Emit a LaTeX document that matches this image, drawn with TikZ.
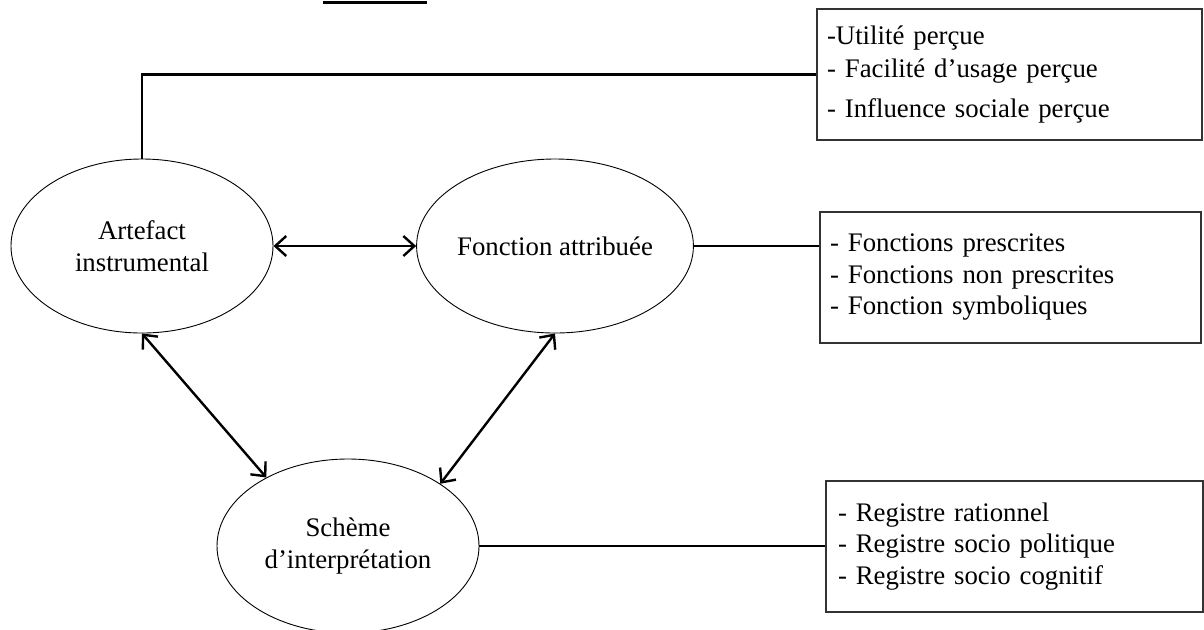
\documentclass[tikz,border=0pt]{standalone}
\usepackage{fontspec}
\setmainfont{Liberation Serif}
\usetikzlibrary{shapes.geometric,arrows.meta}

\begin{document}
\begin{tikzpicture}[x=0.5pt,y=-0.5pt,
    every node/.style={font=\fontsize{13.4}{15.75}\selectfont},
    concept/.style={draw,ellipse,line width=0.45pt,minimum width=131pt,minimum height=87pt,align=center,inner sep=0pt},
    listbox/.style={draw=black!80,line width=0.6pt,rectangle,minimum height=65.5pt,align=left,inner xsep=5pt,inner ysep=0pt},
    link/.style={line width=1.2pt},
    twoway/.style={line width=1.2pt,{Straight Barb[length=5.5pt,width=10pt]}-{Straight Barb[length=5.5pt,width=10pt]}}]
        \useasboundingbox (0,0) rectangle (1204,629);

        % Underline left over from the caption
        \draw[line width=1.5pt] (323,2) -- (427,2);

        % Draw the three ellipses
        \node[concept] (art) at (142,246) {Artefact\\instrumental};
        \node[concept] (fct) at (555,246) {Fonction attribuée};
        \node[concept] (sch) at (348,546) {Schème\\d’interprétation};

        % Draw the boxes on the right
        \node[listbox,text width=182.5pt] (perc) at (1009.5,74.5)
            {-Utilité perçue\\[1pt]- Facilité d’usage perçue\\[4pt]- Influence sociale perçue};
        \node[listbox,text width=180.5pt] (fonc) at (1010.5,277.5)
            {- Fonctions prescrites\\- Fonctions non prescrites\\- Fonction symboliques};
        \node[listbox,text width=176.5pt,inner xsep=6pt] (regi) at (1014.5,546.5)
            {- Registre rationnel\\- Registre socio politique\\- Registre socio cognitif};

        % Lines to the boxes
        \draw[link] (art.north) |- (perc.west);
        \draw[link] (fct.east) -- (fct.east -| fonc.west);
        \draw[link] (sch.east) -- (sch.east -| regi.west);

        % Double arrows between the ellipses
        \draw[twoway] (art.east) -- (fct.west);
        \draw[twoway] (art.south) -- (sch.140);
        \draw[twoway] (fct.south) -- (sch.34);
    \end{tikzpicture}
\end{document}
